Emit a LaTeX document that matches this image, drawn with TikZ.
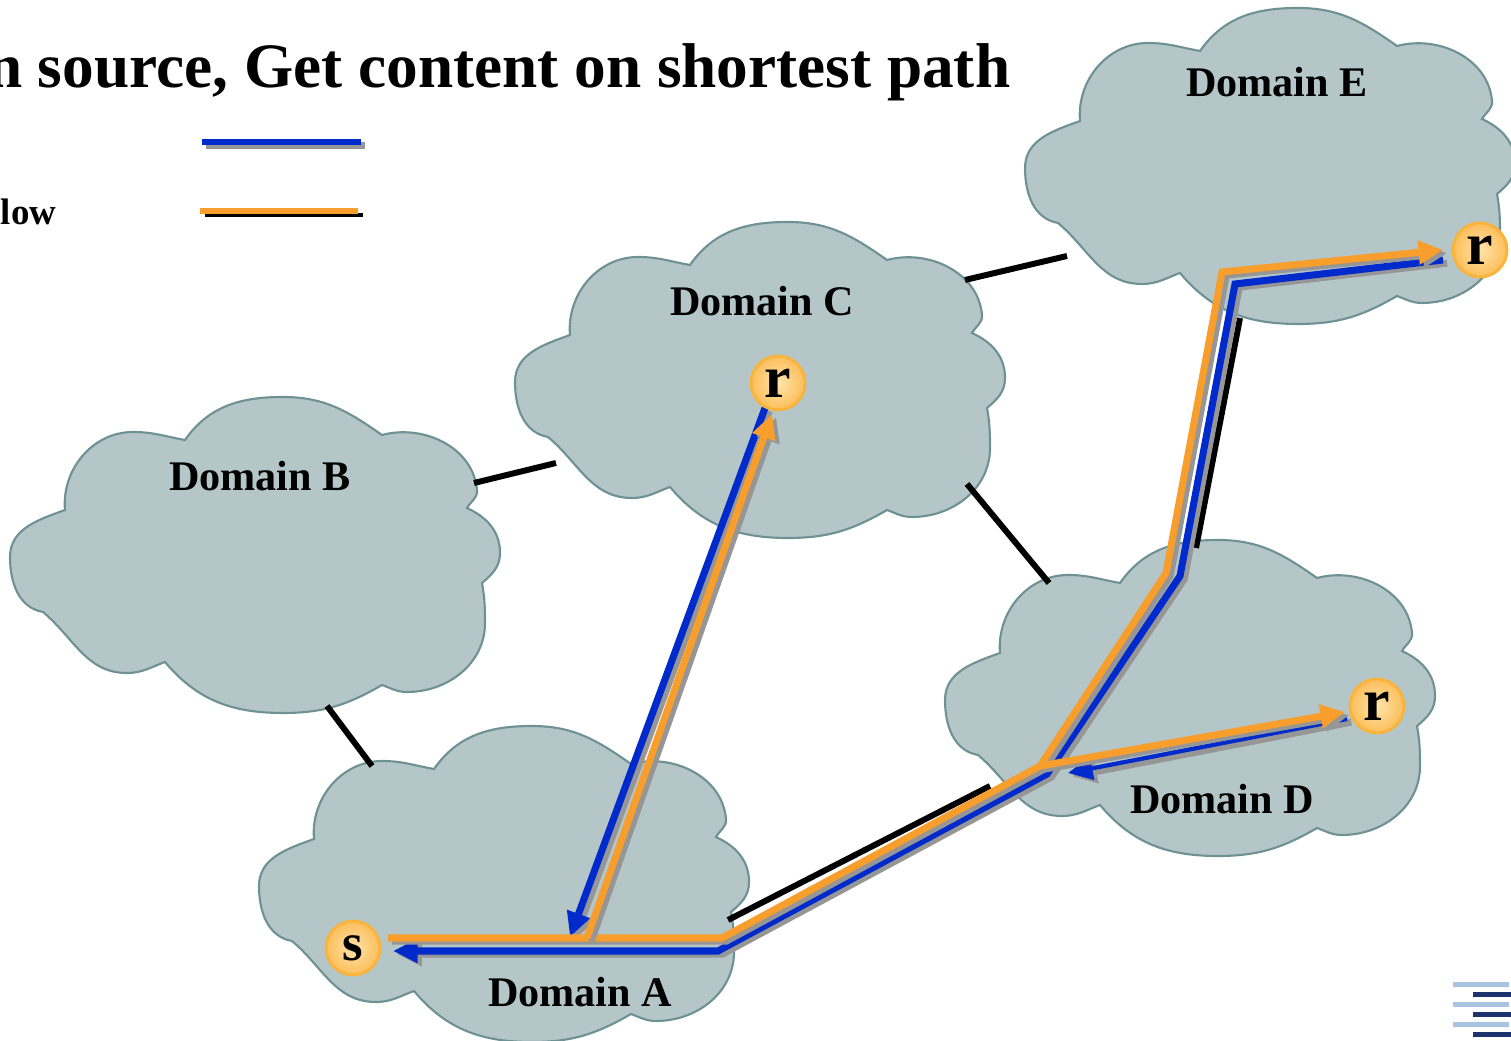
\documentclass[tikz,border=0pt]{standalone}
\usepackage{fontspec}
\setmainfont{Liberation Serif}
\usetikzlibrary{arrows.meta}

\definecolor{cloudfill}{RGB}{180,198,200}
\definecolor{cloudedge}{RGB}{110,145,148}
\definecolor{flowblue}{RGB}{0,42,204}
\definecolor{floworange}{RGB}{248,158,44}
\definecolor{shadowgray}{RGB}{150,150,150}
\definecolor{rimorange}{RGB}{250,180,60}
\definecolor{rinner}{RGB}{255,228,170}
\definecolor{router}{RGB}{251,190,90}
\definecolor{logolight}{RGB}{168,196,224}
\definecolor{logodark}{RGB}{30,50,110}

\tikzset{
	domaincloud/.pic={
		\path[fill=cloudfill, draw=cloudedge, line width=0.6pt]
		(-0.70,1.15) to[out=55,in=180] (0.28,1.58) to[out=0,in=145] (1.27,1.20)
		to[out=15,in=95] (2.22,0.65) to[out=-85,in=60] (2.12,0.47)
		to[out=-25,in=90] (2.45,0.02) to[out=-90,in=40] (2.27,-0.28)
		to[out=-80,in=90] (2.30,-0.68) to[out=-90,in=0] (1.52,-1.37) to[out=180,in=-20] (1.27,-1.30)
		to[out=-150,in=0] (0.28,-1.58) to[out=180,in=-50] (-0.90,-1.07)
		to[out=-160,in=0] (-1.28,-1.18) to[out=180,in=-40] (-2.12,-0.57)
		to[out=170,in=-90] (-2.45,-0.02) to[out=90,in=-160] (-1.90,0.45)
		to[out=95,in=180] (-1.22,1.23) to[out=0,in=170] cycle;
	},
	domainlabel/.style={font=\fontsize{12}{14}\selectfont\bfseries},
	link/.style={draw=black, line width=1.7pt},
	joinflow/.style={draw=flowblue, line width=2pt,
		preaction={draw=shadowgray, line width=2pt, transform canvas={xshift=1.2pt,yshift=-0.9pt}}},
	dataflow/.style={draw=floworange, line width=2pt,
		preaction={draw=shadowgray, line width=2pt, transform canvas={xshift=1.2pt,yshift=-0.9pt}}},
	tip/.style={-{Triangle[length=7pt,width=6.5pt]}},
	hostnode/.style={circle, draw=rimorange, line width=0.8pt, inner sep=0pt,
		minimum size=0.54cm, inner color=rinner, outer color=router,
		font=\fontsize{17}{17}\selectfont\bfseries},
}

\begin{document}
\begin{tikzpicture}
	\useasboundingbox (0,0) rectangle (15.11,10.40);
	
	% title and legend
	\node[anchor=base east, font=\fontsize{18}{22}\selectfont\bfseries, inner sep=0pt] (title) at (10.11,9.52) {n source, Get content on shortest path};
	\node[anchor=base east, font=\fontsize{10.5}{12}\selectfont\bfseries, inner sep=0pt] (flowlabel) at (0.57,8.15) {Flow};
	
	\coordinate (LegB1) at (2.02,8.98);
	\coordinate (LegB2) at (3.61,8.98);
	\coordinate (LegK1) at (2.05,8.25);
	\coordinate (LegK2) at (3.63,8.25);
	\coordinate (LegO1) at (2.00,8.29);
	\coordinate (LegO2) at (3.58,8.29);
	\draw[joinflow, line width=1.7pt] (LegB1) -- (LegB2);
	\draw[link, line width=1.2pt] (LegK1) -- (LegK2);
	\draw[draw=floworange, line width=1.5pt] (LegO1) -- (LegO2);
	
	% domains
	\pic at (2.55,4.85) {domaincloud};
	\pic at (7.60,6.60) {domaincloud};
	\pic at (12.70,8.74) {domaincloud};
	\pic at (5.04,1.56) {domaincloud};
	\pic at (11.90,3.42) {domaincloud};
	
	\node[domainlabel] (labB) at (2.60,5.64) {Domain B};
	\node[domainlabel] (labC) at (7.62,7.39) {Domain C};
	\node[domainlabel] (labE) at (12.77,9.58) {Domain E};
	\node[domainlabel] (labA) at (5.80,0.48) {Domain A};
	\node[domainlabel] (labD) at (12.22,2.41) {Domain D};
	
	% inter-domain links
	\coordinate (BC1) at (4.74,5.57);
	\coordinate (BC2) at (5.56,5.77);
	\coordinate (BA1) at (3.27,3.34);
	\coordinate (BA2) at (3.72,2.74);
	\coordinate (CE1) at (9.65,7.60);
	\coordinate (CE2) at (10.67,7.84);
	\coordinate (CD1) at (9.67,5.56);
	\coordinate (CD2) at (10.49,4.57);
	\coordinate (AD1) at (7.28,1.20);
	\coordinate (AD2) at (9.90,2.54);
	\coordinate (DE1) at (11.96,4.92);
	\coordinate (DE2) at (12.40,7.22);
	\foreach \a/\b in {BC1/BC2, BA1/BA2, CE1/CE2, CD1/CD2, AD1/AD2, DE1/DE2}
		\draw[link] (\a) -- (\b);
	
	% join path (blue)
	\coordinate (bE) at (14.43,7.80);
	\coordinate (bE1) at (12.35,7.56);
	\coordinate (bD1) at (11.80,4.64);
	\coordinate (bJ) at (10.47,2.66);
	\coordinate (bA1) at (7.18,0.89);
	\coordinate (bS) at (3.93,0.89);
	\coordinate (bD) at (13.47,3.21);
	\coordinate (bDJ) at (10.68,2.67);
	\coordinate (bC) at (7.65,6.32);
	\coordinate (bCA) at (5.70,1.03);
	\draw[joinflow, tip, line join=miter] (bE) -- (bE1) -- (bD1) -- (bJ) -- (bA1) -- (bS);
	\draw[joinflow, tip, line width=1.2pt] (bD) -- (bDJ);
	\draw[joinflow, tip] (bC) -- (bCA);
	
	% content path (orange)
	\coordinate (oS) at (3.88,1.02);
	\coordinate (oA1) at (7.22,1.02);
	\coordinate (oJ) at (10.40,2.74);
	\coordinate (oD1) at (11.66,4.67);
	\coordinate (oE1) at (12.22,7.68);
	\coordinate (oE) at (14.43,7.90);
	\coordinate (oD) at (13.45,3.28);
	\coordinate (oAC) at (5.87,1.02);
	\coordinate (oC) at (7.72,6.26);
	\draw[dataflow, tip, line join=miter] (oS) -- (oA1) -- (oJ) -- (oD1) -- (oE1) -- (oE);
	\draw[dataflow, tip] (oJ) -- (oD);
	\draw[dataflow, tip] (oAC) -- (oC);
	
	% hosts
	\node[hostnode, font=\fontsize{15}{15}\selectfont\bfseries] (s) at (3.53,0.92) {s};
	\node[hostnode] (rC) at (7.78,6.57) {r};
	\node[hostnode] (rE) at (14.80,7.90) {r};
	\node[hostnode] (rD) at (13.77,3.34) {r};
	
	% logo
	\foreach \i in {0,1,2}{
		\fill[logolight] (14.53,{0.58-0.2*\i}) rectangle (15.09,{0.53-0.2*\i});
		\fill[logodark] (14.73,{0.48-0.2*\i}) rectangle (15.11,{0.43-0.2*\i});
	}
\end{tikzpicture}
\end{document}
